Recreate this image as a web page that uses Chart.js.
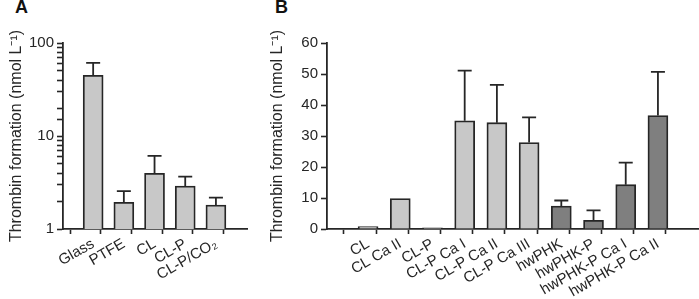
<!DOCTYPE html>
<html>
<head>
<meta charset="utf-8">
<script src="https://cdn.jsdelivr.net/npm/chart.js@4/dist/chart.umd.min.js"></script>
<style>
  html, body { margin: 0; padding: 0; background: #fff; }
  #wrap { position: relative; width: 699px; height: 299px; overflow: hidden; font-family: "Liberation Sans", Arial, sans-serif; }
  .panel { position: absolute; top: 0; height: 299px; }
  .tag { position: absolute; top: -3px; font-weight: bold; font-size: 18px; color: #111; }
</style>
</head>
<body>
<div id="wrap">
  <div class="tag" style="left:15px">A</div>
  <div class="tag" style="left:275px">B</div>
  <div class="panel" style="left:0;width:255px"><canvas id="chartA"></canvas></div>
  <div class="panel" style="left:255px;width:444px"><canvas id="chartB"></canvas></div>
</div>
<script>
// Panel A data (log scale)
const categoriesA = ['Glass', 'PTFE', 'CL', 'CL-P', 'CL-P/CO\u2082'];
const valuesA = [45, 1.94, 3.97, 2.9, 1.81];
const errTopA = [61, 2.56, 6.1, 3.65, 2.17];
const yTicksA = [1, 10, 100];

// Panel B data (linear scale)
const categoriesB = ['CL', 'CL Ca II', 'CL-P', 'CL-P Ca I', 'CL-P Ca II', 'CL-P Ca III',
                     'hwPHK', 'hwPHK-P', 'hwPHK-P Ca I', 'hwPHK-P Ca II'];
const valuesB = [0.8, 9.8, 0.4, 34.9, 34.3, 27.9, 7.4, 2.8, 14.3, 36.6];
const errTopB = [null, null, null, 51.1, 46.5, 36.0, 9.2, 6.0, 21.4, 50.7];
const groupB = ['CL', 'CL', 'CL', 'CL', 'CL', 'CL', 'hw', 'hw', 'hw', 'hw'];

const INK = '#262626';
const LIGHT = '#c8c8c8';
const DARK = '#7f7f7f';
const FONT = { family: '"Liberation Sans", Arial, sans-serif', size: 15 };
const TITLE_FONT = { family: '"Liberation Sans", Arial, sans-serif', size: 16 };
const TITLE = 'Thrombin formation (nmol L\u207B\u00B9)';

Chart.defaults.font.family = FONT.family;
Chart.defaults.color = INK;

// upward error bars with a cap
const errorBars = {
    id: 'errorBars',
    afterDatasetsDraw(chart, args, opts) {
        const ctx = chart.ctx;
        const meta = chart.getDatasetMeta(0);
        const yScale = chart.scales.y;
        ctx.save();
        ctx.strokeStyle = INK;
        ctx.lineWidth = 1.8;
        opts.tops.forEach((top, i) => {
            if (top == null) return;
            const bar = meta.data[i];
            const yTop = yScale.getPixelForValue(top);
            ctx.beginPath();
            ctx.moveTo(bar.x, bar.y);
            ctx.lineTo(bar.x, yTop);
            ctx.moveTo(bar.x - 7, yTop);
            ctx.lineTo(bar.x + 7, yTop);
            ctx.stroke();
        });
        ctx.restore();
    }
};

// x positions: category i sits at i + 0.5, boundaries at integers
function xTicks(n) {
    const t = [];
    for (let v = 0; v <= n; v += 0.5) t.push({ value: v });
    return t;
}

function xScale(categories, min, max, axisHeight) {
    return {
        type: 'linear',
        min: min,
        max: max,
        afterBuildTicks: s => { s.ticks = xTicks(categories.length); },
        afterFit: s => { s.height = axisHeight; },
        ticks: {
            autoSkip: false,
            minRotation: 30,
            maxRotation: 30,
            padding: 1,
            font: FONT,
            color: INK,
            callback: v => (v % 1 === 0.5 ? categories[Math.floor(v)] : '')
        },
        grid: {
            drawOnChartArea: false,
            tickLength: 5,
            tickWidth: 1.6,
            tickColor: c => (c.tick && c.tick.value % 1 === 0 ? INK : 'rgba(0,0,0,0)')
        },
        border: { color: INK, width: 1.8 }
    };
}

function makeChart(id, categories, values, colors, tops, yOpts, axisWidth, titlePad, rightPad) {
    return new Chart(document.getElementById(id), {
        type: 'bar',
        data: {
            datasets: [{
                data: values.map((v, i) => ({ x: i + 0.5, y: v })),
                backgroundColor: colors,
                borderColor: INK,
                borderWidth: 1.8,
                barThickness: 20
            }]
        },
        options: {
            responsive: true,
            maintainAspectRatio: false,
            animation: false,
            layout: { padding: { top: 43, left: 0, right: rightPad, bottom: 0 } },
            plugins: {
                legend: { display: false },
                tooltip: { enabled: false },
                errorBars: { tops: tops }
            },
            scales: {
                x: xScale(categories, yOpts.xmin, yOpts.xmax, 70),
                y: Object.assign({
                    afterFit: s => { s.width = axisWidth; },
                    title: { display: true, text: TITLE, font: TITLE_FONT, color: INK, padding: { top: titlePad, bottom: 0 } },
                    grid: { drawOnChartArea: false, tickLength: 6, tickWidth: 1.6, tickColor: INK },
                    border: { color: INK, width: 1.8 }
                }, yOpts.y)
            }
        },
        plugins: [errorBars]
    });
}

makeChart('chartA', categoriesA, valuesA, categoriesA.map(() => LIGHT), errTopA, {
    xmin: -0.21, xmax: 5.24,
    y: {
        type: 'logarithmic',
        min: 1,
        max: 100,
        ticks: {
            autoSkip: false,
            font: FONT,
            color: INK,
            padding: 3,
            callback: v => (yTicksA.includes(v) ? String(v) : '')
        }
    }
}, 63, 7, 8);

makeChart('chartB', categoriesB, valuesB, groupB.map(g => (g === 'hw' ? DARK : LIGHT)), errTopB, {
    xmin: -0.5, xmax: 10.5,
    y: {
        type: 'linear',
        min: 0,
        max: 60,
        ticks: { stepSize: 10, font: FONT, color: INK, padding: 3 }
    }
}, 72, 13, 0);
</script>
</body>
</html>
